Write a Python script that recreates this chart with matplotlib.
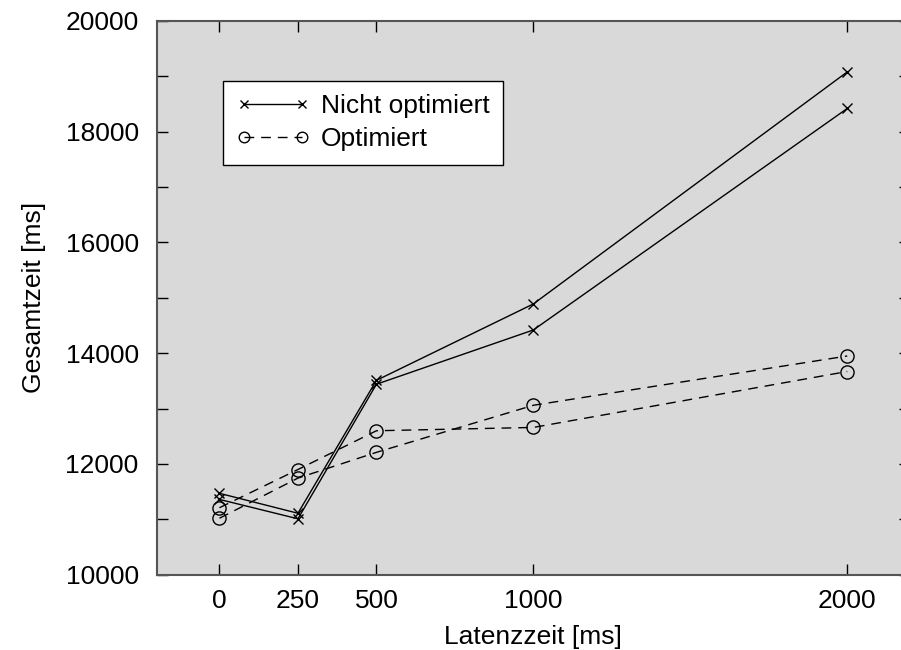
import matplotlib
matplotlib.use("Agg")
from matplotlib import pyplot as plt
from matplotlib.ticker import MultipleLocator

plt.rcParams['font.family'] = ['Liberation Sans', 'DejaVu Sans']

latenz = [0, 250, 500, 1000, 2000]
nicht_opt_a = [11470, 11110, 13510, 14890, 19080]
nicht_opt_b = [11360, 11010, 13440, 14420, 18420]
opt_a = [11210, 11900, 12600, 12660, 13670]
opt_b = [11020, 11745, 12210, 13060, 13950]
xticks = [0, 250, 500, 1000, 2000]

fig = plt.figure(figsize=(9.01, 6.5), dpi=100)
ax = fig.add_axes([0.1739, 0.1158, 0.8361, 0.8519])
ax.set_facecolor('#d9d9d9')

dash = (0, (7, 5))
ax.plot(latenz, nicht_opt_a, c='black', lw=1, marker='x', ms=7.5, mew=1,
        label='Nicht optimiert')
ax.plot(latenz, nicht_opt_b, c='black', lw=1, marker='x', ms=7.5, mew=1)
ax.plot(latenz, opt_a, c='black', lw=1, ls=dash, marker='o', ms=9.5,
        mfc='none', mew=1, label='Optimiert')
ax.plot(latenz, opt_b, c='black', lw=1, ls=dash, marker='o', ms=9.5,
        mfc='none', mew=1)

ax.set_xlim(-200, 2200)
ax.set_ylim(10000, 20000)
ax.set_xticks(xticks)
ax.set_xticklabels([str(t) for t in xticks])
ax.yaxis.set_major_locator(MultipleLocator(2000))
ax.yaxis.set_minor_locator(MultipleLocator(1000))
ax.tick_params(axis='both', which='both', direction='in', length=8, width=1,
               top=True, right=True, labelsize=19)
ax.tick_params(axis='y', pad=13)
ax.tick_params(axis='x', pad=10)
for s in ax.spines.values():
    s.set_color('#555555')
    s.set_linewidth(1.5)

ax.set_xlabel('Latenzzeit [ms]', fontsize=19, labelpad=9)
ax.set_ylabel('Gesamtzeit [ms]', fontsize=19, labelpad=14)

leg = fig.legend(loc='upper left', bbox_to_anchor=(223 / 901, 1 - 81 / 650),
                 borderaxespad=0, fontsize=19, numpoints=2, markerscale=0.8,
                 handlelength=2.8, handletextpad=0.4, labelspacing=0.35,
                 borderpad=0.5, fancybox=False, framealpha=1,
                 edgecolor='black')
leg.get_frame().set_linewidth(1)

fig.savefig('out.png', dpi=100)
